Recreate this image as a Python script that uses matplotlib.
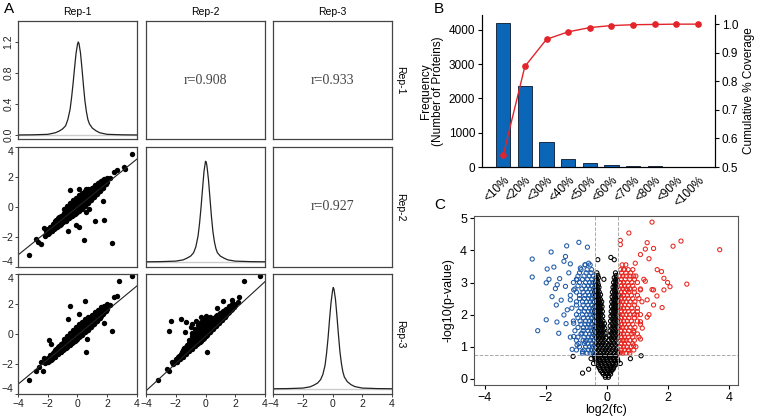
import numpy as np
import matplotlib.pyplot as plt

plt.rcParams['font.family'] = ['Liberation Sans', 'DejaVu Sans']

# ---- panel A: density curves on the diagonal ----
dens_x = [-4, -3, -2, -1.5, -1.25, -1.0, -0.8, -0.65, -0.5, -0.4, -0.3, -0.2, -0.1,
          0.0, 0.05, 0.1, 0.2, 0.3, 0.4, 0.5, 0.6, 0.7, 0.8, 1.0, 1.25, 1.5, 2, 3, 4]
dens_rep1 = [0.002, 0.004, 0.01, 0.03, 0.05, 0.08, 0.12, 0.2, 0.33, 0.48, 0.66, 0.86, 1.05,
             1.17, 1.2, 1.18, 1.06, 0.86, 0.64, 0.44, 0.3, 0.2, 0.145, 0.09, 0.055, 0.03, 0.01, 0.004, 0.002]
dens_rep2 = [0.002, 0.004, 0.01, 0.025, 0.045, 0.07, 0.11, 0.18, 0.31, 0.46, 0.65, 0.87, 1.08,
             1.2, 1.19, 1.14, 0.98, 0.76, 0.54, 0.36, 0.24, 0.16, 0.11, 0.07, 0.045, 0.025, 0.01, 0.004, 0.002]
dens_rep3 = [0.002, 0.004, 0.01, 0.025, 0.045, 0.07, 0.11, 0.17, 0.28, 0.42, 0.6, 0.82, 1.02,
             1.16, 1.2, 1.18, 1.06, 0.86, 0.64, 0.44, 0.3, 0.2, 0.14, 0.085, 0.05, 0.028, 0.01, 0.004, 0.002]

reps = ['Rep-1', 'Rep-2', 'Rep-3']
r_values = {(0, 1): 'r=0.908', (0, 2): 'r=0.933', (1, 2): 'r=0.927'}

# fitted lines (intercept, slope) for lower panels
fit_21 = (0.0, 0.80)
fit_31 = (-0.07, 0.82)
fit_32 = (-0.15, 0.91)

# ---- panel A: scatter points, lower triangle ----
pts_21 = [
    (3.67, 3.56), (-3.27, -3.22), (2.33, -2.38), (0.44, -2.18), (-0.49, 1.11), (0.11, 1.18),
    (0.56, 1.22), (1.73, 0.38), (1.78, -0.84), (1.16, -0.96), (-0.67, -1.6), (-2.22, -1.38),
    (0.11, -1.33), (-0.11, -1.22), (-2.67, -2.33), (-2.44, -2.44), (-2.78, -2.11), (2.44, 2.33),
    (2.67, 2.44), (3.11, 2.67), (3.22, 2.56), (0.56, -0.33), (0.78, -0.11),
    (-2.2, -1.95), (-2.15, -1.6), (-2.0, -1.8), (-1.95, -1.45), (-2.05, -1.62),
    (-1.8, -1.6), (-1.75, -1.3), (-1.85, -1.45), (-1.6, -1.45), (-1.6, -1.1), (-1.55, -1.28),
    (-1.4, -1.35), (-1.42, -0.85), (-1.35, -1.1), (-1.2, -1.2), (-1.22, -0.65), (-1.18, -0.92),
    (-1.25, -1.05), (-1.0, -1.0), (-1.0, -0.5), (-0.98, -0.75), (-1.05, -0.62),
    (-0.8, -0.9), (-0.8, -0.3), (-0.78, -0.58), (-0.85, -0.45), (-0.75, -0.75),
    (-0.6, -0.75), (-0.6, -0.05), (-0.58, -0.4), (-0.62, -0.22), (-0.55, -0.58),
    (-0.4, -0.6), (-0.4, 0.15), (-0.38, -0.24), (-0.42, -0.05), (-0.35, -0.42),
    (-0.2, -0.45), (-0.2, 0.35), (-0.18, -0.07), (-0.22, 0.15), (-0.15, -0.27),
    (0.0, -0.3), (0.0, 0.55), (0.02, 0.1), (-0.02, 0.32), (0.05, -0.12),
    (0.2, -0.15), (0.2, 0.7), (0.22, 0.27), (0.18, 0.48), (0.25, 0.05),
    (0.4, 0.0), (0.4, 0.85), (0.42, 0.44), (0.38, 0.65), (0.45, 0.22),
    (0.6, 0.2), (0.6, 1.0), (0.62, 0.61), (0.58, 0.8), (0.65, 0.4),
    (0.8, 0.4), (0.8, 1.15), (0.82, 0.78), (0.78, 0.98), (0.85, 0.58),
    (1.0, 0.6), (1.0, 1.3), (1.02, 0.95), (0.98, 1.13), (1.05, 0.77),
    (1.2, 0.8), (1.2, 1.45), (1.22, 1.12), (1.25, 0.95), (1.4, 1.0), (1.4, 1.6), (1.42, 1.29),
    (1.6, 1.2), (1.6, 1.75), (1.62, 1.46), (1.8, 1.45), (1.8, 1.85), (2.0, 1.65), (2.0, 1.95),
    (2.2, 1.95),
    (-1.9, -1.75), (-1.9, -1.5), (-1.88, -1.3), (-1.7, -1.6), (-1.7, -1.35), (-1.68, -1.12),
    (-1.5, -1.42), (-1.5, -1.17), (-1.48, -0.93), (-1.3, -1.25), (-1.3, -1.0), (-1.28, -0.75),
    (-1.1, -1.1), (-1.1, -0.83), (-1.08, -0.58), (-0.9, -0.95), (-0.9, -0.66), (-0.88, -0.38),
    (-0.92, -0.15), (-0.7, -0.82), (-0.7, -0.5), (-0.68, -0.2), (-0.72, 0.05),
    (-0.5, -0.68), (-0.5, -0.33), (-0.48, 0.0), (-0.52, 0.25), (-0.3, -0.55), (-0.3, -0.15),
    (-0.28, 0.18), (-0.32, 0.45), (-0.1, -0.4), (-0.1, 0.02), (-0.08, 0.38), (-0.12, 0.62),
    (0.1, -0.25), (0.1, 0.18), (0.12, 0.52), (0.08, 0.8), (0.3, -0.1), (0.3, 0.36), (0.32, 0.7),
    (0.28, 0.95), (0.5, 0.08), (0.5, 0.52), (0.52, 0.88), (0.48, 1.08), (0.7, 0.28), (0.7, 0.7),
    (0.72, 1.02), (0.68, 1.2), (0.9, 0.5), (0.9, 0.87), (0.92, 1.18), (1.1, 0.7), (1.1, 1.03),
    (1.12, 1.33), (1.3, 0.9), (1.3, 1.2), (1.32, 1.5), (1.5, 1.1), (1.5, 1.38), (1.52, 1.65),
    (1.7, 1.3), (1.7, 1.55), (1.72, 1.8), (1.9, 1.55), (1.9, 1.8),
]
pts_31 = [
    (3.67, 3.89), (2.78, 3.56), (0.49, 2.22), (-0.49, 1.89), (-0.67, 1.0), (0.11, 1.33),
    (2.44, 2.44), (2.67, 2.56), (1.78, 0.71), (2.33, 0.22), (0.6, -1.22), (0.67, -0.33),
    (-1.78, -0.67), (-1.89, -0.4), (-3.27, -3.07), (-2.78, -2.44), (-2.56, -2.22),
    (-2.33, -2.44), (-2.22, -1.6), (-2.44, -1.89),
    (-2.2, -1.95), (-2.15, -1.8), (-2.0, -1.85), (-1.95, -1.6), (-2.05, -1.72),
    (-1.8, -1.7), (-1.75, -1.4), (-1.85, -1.55), (-1.6, -1.5), (-1.6, -1.2), (-1.55, -1.35),
    (-1.4, -1.35), (-1.42, -1.0), (-1.35, -1.17), (-1.2, -1.2), (-1.22, -0.8), (-1.18, -1.0),
    (-1.0, -1.05), (-1.0, -0.6), (-0.98, -0.83), (-1.05, -0.7),
    (-0.8, -0.9), (-0.8, -0.4), (-0.78, -0.65), (-0.85, -0.5),
    (-0.6, -0.75), (-0.6, -0.2), (-0.58, -0.48), (-0.62, -0.35),
    (-0.4, -0.6), (-0.4, 0.0), (-0.38, -0.3), (-0.42, -0.15),
    (-0.2, -0.45), (-0.2, 0.2), (-0.18, -0.13), (-0.22, 0.05),
    (0.0, -0.3), (0.0, 0.4), (0.02, 0.05), (-0.02, 0.22),
    (0.2, -0.1), (0.2, 0.58), (0.22, 0.23), (0.18, 0.4),
    (0.4, 0.05), (0.4, 0.75), (0.42, 0.4), (0.38, 0.58),
    (0.6, 0.22), (0.6, 0.92), (0.62, 0.58), (0.58, 0.75),
    (0.8, 0.4), (0.8, 1.1), (0.82, 0.75), (0.78, 0.93),
    (1.0, 0.6), (1.0, 1.25), (1.02, 0.93), (0.98, 1.1),
    (1.2, 0.8), (1.2, 1.45), (1.22, 1.1), (1.4, 1.0), (1.4, 1.6), (1.42, 1.28),
    (1.6, 1.2), (1.6, 1.78), (1.62, 1.46), (1.8, 1.45), (1.8, 1.9), (2.0, 1.65), (2.0, 2.0),
    (2.2, 1.95),
    (-1.9, -1.8), (-1.9, -1.6), (-1.88, -1.42), (-1.7, -1.65), (-1.7, -1.45), (-1.68, -1.25),
    (-1.5, -1.5), (-1.5, -1.27), (-1.48, -1.05), (-1.3, -1.32), (-1.3, -1.1), (-1.28, -0.88),
    (-1.1, -1.18), (-1.1, -0.92), (-1.08, -0.68), (-0.9, -1.0), (-0.9, -0.74), (-0.88, -0.48),
    (-0.92, -0.3), (-0.7, -0.85), (-0.7, -0.57), (-0.68, -0.3), (-0.72, -0.1),
    (-0.5, -0.7), (-0.5, -0.4), (-0.48, -0.12), (-0.52, 0.08), (-0.3, -0.55), (-0.3, -0.22),
    (-0.28, 0.08), (-0.32, 0.3), (-0.1, -0.4), (-0.1, -0.04), (-0.08, 0.26), (-0.12, 0.48),
    (0.1, -0.22), (0.1, 0.14), (0.12, 0.44), (0.08, 0.65), (0.3, -0.05), (0.3, 0.32), (0.32, 0.6),
    (0.28, 0.82), (0.5, 0.12), (0.5, 0.5), (0.52, 0.78), (0.48, 0.98), (0.7, 0.3), (0.7, 0.67),
    (0.72, 0.95), (0.68, 1.15), (0.9, 0.5), (0.9, 0.85), (0.92, 1.15), (1.1, 0.7), (1.1, 1.02),
    (1.12, 1.3), (1.3, 0.9), (1.3, 1.2), (1.32, 1.48), (1.5, 1.1), (1.5, 1.37), (1.52, 1.62),
    (1.7, 1.32), (1.7, 1.55), (1.72, 1.8), (1.9, 1.55), (1.9, 1.85),
]
pts_32 = [
    (2.56, 3.56), (3.67, 3.89), (-2.33, 0.89), (-2.44, 0.22), (-1.67, 1.0), (-1.33, 0.78),
    (-1.0, 0.44), (-1.38, 0.11), (1.16, 2.22), (0.78, 1.73), (0.11, -1.22), (-3.22, -3.07),
    (-2.44, -2.44), (-2.56, -2.33), (-2.27, -1.89), (1.78, 2.27), (2.22, 2.44),
    (-0.89, 0.67), (-0.67, 0.89), (-0.33, 1.11), (0.0, 1.22), (0.33, 1.11),
    (-2.2, -2.0), (-2.15, -1.85), (-2.0, -1.85), (-1.95, -1.65),
    (-1.8, -1.65), (-1.75, -1.45), (-1.85, -1.55), (-1.6, -1.5), (-1.6, -1.2), (-1.55, -1.35),
    (-1.4, -1.3), (-1.42, -0.95), (-1.35, -1.12), (-1.2, -1.15), (-1.22, -0.7), (-1.18, -0.92),
    (-1.0, -0.95), (-1.0, -0.4), (-0.98, -0.7), (-1.05, -0.55),
    (-0.8, -0.8), (-0.8, -0.1), (-0.78, -0.5), (-0.85, -0.3), (-0.75, -0.62),
    (-0.6, -0.65), (-0.6, 0.2), (-0.58, -0.3), (-0.62, 0.0), (-0.55, -0.45),
    (-0.4, -0.5), (-0.4, 0.45), (-0.38, -0.1), (-0.42, 0.2), (-0.35, -0.3),
    (-0.2, -0.35), (-0.2, 0.65), (-0.18, 0.1), (-0.22, 0.4), (-0.15, -0.12),
    (0.0, -0.15), (0.0, 0.85), (0.02, 0.3), (-0.02, 0.6), (0.05, 0.08),
    (0.2, 0.05), (0.2, 0.9), (0.22, 0.45), (0.18, 0.7), (0.25, 0.25),
    (0.4, 0.25), (0.4, 1.0), (0.42, 0.6), (0.38, 0.82), (0.45, 0.42),
    (0.6, 0.45), (0.6, 1.1), (0.62, 0.78), (0.58, 0.95),
    (0.8, 0.65), (0.8, 1.25), (0.82, 0.95), (1.0, 0.85), (1.0, 1.4), (1.02, 1.12),
    (1.2, 1.05), (1.2, 1.55), (1.22, 1.3), (1.4, 1.3), (1.4, 1.7), (1.6, 1.5), (1.6, 1.85),
    (1.8, 1.7), (1.8, 2.0), (2.0, 1.95), (2.2, 2.15),
    (-1.9, -1.85), (-1.9, -1.65), (-1.7, -1.68), (-1.7, -1.5), (-1.68, -1.3),
    (-1.5, -1.5), (-1.5, -1.3), (-1.48, -1.08), (-1.3, -1.32), (-1.3, -1.1), (-1.28, -0.85),
    (-1.1, -1.15), (-1.1, -0.9), (-1.08, -0.6), (-1.12, -0.4),
    (-0.9, -0.98), (-0.9, -0.72), (-0.88, -0.4), (-0.92, -0.15), (-0.9, 0.1),
    (-0.7, -0.8), (-0.7, -0.5), (-0.68, -0.2), (-0.72, 0.1), (-0.7, 0.35),
    (-0.5, -0.62), (-0.5, -0.3), (-0.48, 0.0), (-0.52, 0.3), (-0.5, 0.6),
    (-0.3, -0.45), (-0.3, -0.1), (-0.28, 0.2), (-0.32, 0.5), (-0.3, 0.78),
    (-0.1, -0.28), (-0.1, 0.08), (-0.08, 0.4), (-0.12, 0.7), (-0.1, 0.95),
    (0.1, -0.08), (0.1, 0.25), (0.12, 0.55), (0.08, 0.82), (0.1, 1.05),
    (0.3, 0.12), (0.3, 0.42), (0.32, 0.7), (0.28, 0.95), (0.5, 0.32), (0.5, 0.6), (0.52, 0.88),
    (0.48, 1.1), (0.7, 0.55), (0.7, 0.8), (0.72, 1.05), (0.68, 1.22), (0.9, 0.75), (0.9, 0.98),
    (0.92, 1.2), (1.1, 0.95), (1.1, 1.2), (1.12, 1.4), (1.3, 1.15), (1.3, 1.4), (1.32, 1.6),
    (1.5, 1.38), (1.5, 1.6), (1.7, 1.58), (1.7, 1.8), (1.9, 1.8), (1.9, 2.0),
]

# ---- panel B: coverage histogram ----
cov_bins = ['<10%', '<20%', '<30%', '<40%', '<50%', '<60%', '<70%', '<80%', '<90%', '<100%']
freq = [4210, 2370, 730, 245, 117, 60, 30, 18, 8, 5]
cum_cov = [0.541, 0.852, 0.947, 0.973, 0.988, 0.995, 0.998, 0.999, 1.0, 1.0]

# ---- panel C: volcano ----
fc_cut = 0.38
p_cut = 0.74
blue_pts = [
    (-2.45, 3.73), (-2.45, 3.17), (-2.27, 1.5), (-1.99, 1.84), (-1.96, 3.42), (-1.83, 3.95),
    (-1.99, 2.99), (-1.9, 3.1), (-1.74, 3.48), (-1.69, 2.81), (-1.66, 2.3), (-1.64, 1.77),
    (-1.58, 1.42), (-1.55, 3.12), (-1.36, 3.81), (-1.41, 3.66), (-1.32, 4.14), (-1.25, 3.3),
    (-1.2, 3.58), (-0.92, 4.25), (-0.64, 4.1), (-1.09, 1.32), (-1.34, 1.72), (-1.63, 2.93),
    (-1.5, 2.45), (-1.3, 2.15), (-1.09, 2.77), (-0.98, 3.09), (-0.87, 3.45), (-0.71, 3.55),
    (-0.6, 3.6), (-1.09, 1.73), (-0.98, 1.06), (-0.82, 1.42), (-1.14, 0.92), (-0.8, 0.85),
    (-0.71, 1.16), (-1.41, 1.99), (-1.8, 2.56), (-1.36, 2.88), (-1.2, 2.46),
    (-0.45, 0.8), (-0.55, 0.8), (-0.65, 0.8), (-0.8, 0.8),
    (-0.47, 1.0), (-0.58, 1.0), (-0.7, 1.0), (-0.9, 1.0),
    (-0.45, 1.2), (-0.55, 1.2), (-0.66, 1.2), (-0.78, 1.2), (-1.0, 1.2),
    (-0.46, 1.4), (-0.57, 1.4), (-0.7, 1.4), (-0.85, 1.4),
    (-0.45, 1.6), (-0.55, 1.6), (-0.65, 1.6), (-0.77, 1.6), (-0.95, 1.6),
    (-0.47, 1.8), (-0.58, 1.8), (-0.7, 1.8), (-0.88, 1.8), (-1.1, 1.8),
    (-0.45, 2.0), (-0.55, 2.0), (-0.66, 2.0), (-0.8, 2.0), (-1.0, 2.0),
    (-0.46, 2.2), (-0.57, 2.2), (-0.7, 2.2), (-0.86, 2.2), (-1.15, 2.2),
    (-0.45, 2.4), (-0.55, 2.4), (-0.67, 2.4), (-0.8, 2.4), (-1.0, 2.4),
    (-0.47, 2.6), (-0.58, 2.6), (-0.72, 2.6), (-0.9, 2.6), (-1.2, 2.6),
    (-0.45, 2.8), (-0.56, 2.8), (-0.68, 2.8), (-0.82, 2.8), (-1.05, 2.8),
    (-0.46, 3.0), (-0.57, 3.0), (-0.7, 3.0), (-0.9, 3.0), (-1.1, 3.0),
    (-0.45, 3.2), (-0.58, 3.2), (-0.75, 3.2), (-0.95, 3.2),
    (-0.5, 3.4), (-0.65, 3.4), (-0.85, 3.4), (-0.55, 3.55), (-0.72, 3.55),
    (-0.5, 0.9), (-0.6, 0.9), (-0.75, 0.9), (-1.0, 0.9),
    (-0.5, 1.1), (-0.62, 1.1), (-0.74, 1.1), (-0.92, 1.1),
    (-0.5, 1.3), (-0.6, 1.3), (-0.75, 1.3), (-0.95, 1.3), (-1.2, 1.3),
    (-0.5, 1.5), (-0.62, 1.5), (-0.78, 1.5), (-1.05, 1.5),
    (-0.5, 1.7), (-0.6, 1.7), (-0.72, 1.7), (-0.85, 1.7),
    (-0.5, 1.9), (-0.62, 1.9), (-0.77, 1.9), (-0.95, 1.9),
    (-0.5, 2.1), (-0.61, 2.1), (-0.74, 2.1), (-0.92, 2.1),
    (-0.5, 2.3), (-0.62, 2.3), (-0.78, 2.3), (-1.0, 2.3),
    (-0.5, 2.5), (-0.61, 2.5), (-0.74, 2.5), (-0.9, 2.5),
    (-0.5, 2.7), (-0.63, 2.7), (-0.78, 2.7), (-1.0, 2.7),
    (-0.5, 2.9), (-0.61, 2.9), (-0.75, 2.9), (-0.95, 2.9),
    (-0.5, 3.1), (-0.63, 3.1), (-0.8, 3.1), (-1.0, 3.1),
    (-0.52, 3.3), (-0.68, 3.3), (-0.9, 3.3),
]
red_pts = [
    (1.48, 4.88), (0.72, 4.54), (0.44, 4.31), (0.44, 4.18), (1.32, 4.24), (2.43, 4.29),
    (2.17, 4.13), (3.7, 4.02), (2.62, 2.95), (1.99, 3.0), (1.79, 3.34), (1.87, 3.13),
    (1.65, 3.4), (1.81, 2.22), (1.38, 2.0), (1.16, 1.58), (1.53, 4.06), (1.26, 4.04),
    (1.1, 3.87), (1.38, 3.74), (0.93, 3.6), (1.53, 2.77), (1.53, 2.3), (1.32, 2.46),
    (1.1, 2.77), (1.64, 2.58), (1.21, 3.1), (0.88, 3.2), (0.99, 1.99), (0.88, 1.45),
    (1.1, 1.24), (0.88, 1.03), (0.72, 0.87), (0.44, 0.81), (0.56, 1.2), (1.1, 1.78),
    (1.26, 3.04), (1.48, 2.78), (1.32, 1.92), (1.87, 2.77), (2.07, 2.87), (0.68, 2.77),
    (0.55, 3.4),
    (0.42, 0.8), (0.52, 0.8), (0.62, 0.8), (0.75, 0.8),
    (0.44, 1.0), (0.55, 1.0), (0.66, 1.0), (0.8, 1.0), (0.95, 1.0),
    (0.42, 1.2), (0.52, 1.2), (0.63, 1.2), (0.75, 1.2), (0.9, 1.2),
    (0.44, 1.4), (0.55, 1.4), (0.67, 1.4), (0.82, 1.4), (1.0, 1.4),
    (0.42, 1.6), (0.52, 1.6), (0.63, 1.6), (0.76, 1.6), (0.92, 1.6),
    (0.44, 1.8), (0.55, 1.8), (0.67, 1.8), (0.8, 1.8), (1.0, 1.8),
    (0.42, 2.0), (0.52, 2.0), (0.63, 2.0), (0.75, 2.0), (0.9, 2.0), (1.1, 2.0),
    (0.44, 2.2), (0.55, 2.2), (0.67, 2.2), (0.82, 2.2), (1.0, 2.2),
    (0.42, 2.4), (0.52, 2.4), (0.63, 2.4), (0.76, 2.4), (0.92, 2.4), (1.15, 2.4),
    (0.44, 2.6), (0.55, 2.6), (0.67, 2.6), (0.8, 2.6), (1.0, 2.6),
    (0.42, 2.8), (0.52, 2.8), (0.63, 2.8), (0.75, 2.8), (0.9, 2.8), (1.1, 2.8),
    (0.44, 3.0), (0.55, 3.0), (0.67, 3.0), (0.82, 3.0), (1.0, 3.0),
    (0.42, 3.2), (0.52, 3.2), (0.63, 3.2), (0.76, 3.2), (0.95, 3.2),
    (0.45, 3.4), (0.57, 3.4), (0.7, 3.4), (0.85, 3.4), (0.5, 3.55), (0.62, 3.55),
    (0.47, 0.9), (0.57, 0.9), (0.7, 0.9), (0.88, 0.9),
    (0.47, 1.1), (0.58, 1.1), (0.7, 1.1), (0.85, 1.1),
    (0.47, 1.3), (0.58, 1.3), (0.7, 1.3), (0.85, 1.3), (1.05, 1.3),
    (0.47, 1.5), (0.58, 1.5), (0.72, 1.5), (0.88, 1.5),
    (0.47, 1.7), (0.58, 1.7), (0.7, 1.7), (0.85, 1.7), (1.1, 1.7),
    (0.47, 1.9), (0.58, 1.9), (0.72, 1.9), (0.9, 1.9),
    (0.47, 2.1), (0.58, 2.1), (0.7, 2.1), (0.85, 2.1), (1.0, 2.1),
    (0.47, 2.3), (0.58, 2.3), (0.72, 2.3), (0.9, 2.3),
    (0.47, 2.5), (0.58, 2.5), (0.7, 2.5), (0.85, 2.5), (1.05, 2.5),
    (0.47, 2.7), (0.58, 2.7), (0.72, 2.7), (0.9, 2.7),
    (0.47, 2.9), (0.58, 2.9), (0.7, 2.9), (0.85, 2.9),
    (0.47, 3.1), (0.6, 3.1), (0.75, 3.1), (0.9, 3.1),
    (0.48, 3.3), (0.62, 3.3), (0.78, 3.3),
]
black_pts = [
    (-1.11, 0.7), (-0.8, 0.18), (-0.6, 0.3), (-0.44, 0.48), (0.44, 0.48), (0.77, 0.63),
    (1.12, 0.72), (-0.52, 0.63), (-0.3, 3.71), (0.13, 3.78), (0.24, 3.71), (-0.1, 3.1),
    (-0.05, 0.05), (0.05, 0.05),
    (-0.12, 0.15), (0.0, 0.15), (0.12, 0.15),
    (-0.2, 0.25), (-0.08, 0.25), (0.04, 0.25), (0.15, 0.25),
    (-0.25, 0.35), (-0.12, 0.35), (0.0, 0.35), (0.12, 0.35), (0.22, 0.35),
    (-0.3, 0.45), (-0.18, 0.45), (-0.05, 0.45), (0.08, 0.45), (0.2, 0.45), (0.3, 0.45),
    (-0.35, 0.55), (-0.22, 0.55), (-0.1, 0.55), (0.02, 0.55), (0.14, 0.55), (0.26, 0.55), (0.36, 0.55),
    (-0.38, 0.65), (-0.26, 0.65), (-0.14, 0.65), (-0.02, 0.65), (0.1, 0.65), (0.22, 0.65), (0.33, 0.65),
    (-0.4, 0.75), (-0.28, 0.75), (-0.16, 0.75), (-0.04, 0.75), (0.08, 0.75), (0.2, 0.75), (0.32, 0.75),
    (-0.4, 0.9), (-0.28, 0.9), (-0.16, 0.9), (-0.05, 0.9), (0.06, 0.9), (0.18, 0.9), (0.3, 0.9),
    (-0.4, 1.05), (-0.29, 1.05), (-0.18, 1.05), (-0.07, 1.05), (0.05, 1.05), (0.16, 1.05), (0.28, 1.05),
    (-0.41, 1.2), (-0.3, 1.2), (-0.19, 1.2), (-0.08, 1.2), (0.07, 1.2), (0.18, 1.2), (0.29, 1.2),
    (-0.4, 1.35), (-0.3, 1.35), (-0.2, 1.35), (-0.1, 1.35), (0.09, 1.35), (0.19, 1.35), (0.3, 1.35),
    (-0.41, 1.5), (-0.31, 1.5), (-0.21, 1.5), (-0.11, 1.5), (0.1, 1.5), (0.2, 1.5), (0.31, 1.5),
    (-0.4, 1.65), (-0.3, 1.65), (-0.2, 1.65), (-0.12, 1.65), (0.11, 1.65), (0.21, 1.65), (0.32, 1.65),
    (-0.41, 1.8), (-0.31, 1.8), (-0.22, 1.8), (-0.13, 1.8), (0.12, 1.8), (0.22, 1.8), (0.33, 1.8),
    (-0.4, 1.95), (-0.31, 1.95), (-0.22, 1.95), (-0.14, 1.95), (0.13, 1.95), (0.22, 1.95), (0.32, 1.95),
    (-0.41, 2.1), (-0.32, 2.1), (-0.23, 2.1), (-0.15, 2.1), (0.14, 2.1), (0.23, 2.1), (0.33, 2.1),
    (-0.4, 2.25), (-0.31, 2.25), (-0.23, 2.25), (-0.16, 2.25), (0.15, 2.25), (0.24, 2.25), (0.32, 2.25),
    (-0.41, 2.4), (-0.32, 2.4), (-0.24, 2.4), (-0.17, 2.4), (0.16, 2.4), (0.24, 2.4), (0.33, 2.4),
    (-0.4, 2.55), (-0.32, 2.55), (-0.25, 2.55), (0.17, 2.55), (0.25, 2.55), (0.33, 2.55),
    (-0.41, 2.7), (-0.33, 2.7), (-0.25, 2.7), (0.18, 2.7), (0.26, 2.7), (0.34, 2.7),
    (-0.4, 2.85), (-0.32, 2.85), (-0.26, 2.85), (0.2, 2.85), (0.27, 2.85), (0.33, 2.85),
    (-0.38, 3.0), (-0.3, 3.0), (0.22, 3.0), (0.3, 3.0),
    (-0.36, 3.15), (-0.28, 3.15), (0.24, 3.15), (0.31, 3.15),
    (-0.33, 3.3), (0.28, 3.3),
    (-0.06, 0.1), (0.06, 0.1), (-0.15, 0.2), (-0.03, 0.2), (0.09, 0.2),
    (-0.22, 0.3), (-0.1, 0.3), (0.02, 0.3), (0.14, 0.3), (0.2, 0.3),
    (-0.28, 0.4), (-0.15, 0.4), (-0.02, 0.4), (0.1, 0.4), (0.24, 0.4),
    (-0.33, 0.5), (-0.2, 0.5), (-0.07, 0.5), (0.05, 0.5), (0.18, 0.5), (0.3, 0.5),
    (-0.37, 0.6), (-0.24, 0.6), (-0.12, 0.6), (0.0, 0.6), (0.12, 0.6), (0.24, 0.6), (0.35, 0.6),
    (-0.41, 0.7), (-0.3, 0.7), (-0.2, 0.7), (-0.08, 0.7), (0.04, 0.7), (0.15, 0.7), (0.27, 0.7),
    (-0.34, 0.82), (-0.22, 0.82), (-0.1, 0.82), (0.0, 0.82), (0.12, 0.82), (0.24, 0.82), (0.35, 0.82),
    (-0.35, 0.97), (-0.23, 0.97), (-0.12, 0.97), (0.0, 0.97), (0.1, 0.97), (0.22, 0.97), (0.33, 0.97),
    (-0.35, 1.12), (-0.24, 1.12), (-0.13, 1.12), (-0.03, 1.12), (0.11, 1.12), (0.23, 1.12), (0.34, 1.12),
    (-0.36, 1.27), (-0.25, 1.27), (-0.14, 1.27), (-0.04, 1.27), (0.13, 1.27), (0.24, 1.27), (0.35, 1.27),
    (-0.35, 1.42), (-0.25, 1.42), (-0.15, 1.42), (-0.06, 1.42), (0.15, 1.42), (0.25, 1.42), (0.35, 1.42),
    (-0.36, 1.57), (-0.26, 1.57), (-0.16, 1.57), (-0.07, 1.57), (0.16, 1.57), (0.26, 1.57), (0.36, 1.57),
    (-0.35, 1.72), (-0.26, 1.72), (-0.17, 1.72), (-0.08, 1.72), (0.17, 1.72), (0.27, 1.72), (0.36, 1.72),
    (-0.36, 1.87), (-0.27, 1.87), (-0.18, 1.87), (0.17, 1.87), (0.27, 1.87), (0.36, 1.87),
    (-0.36, 2.02), (-0.27, 2.02), (-0.19, 2.02), (0.18, 2.02), (0.28, 2.02), (0.36, 2.02),
    (-0.35, 2.17), (-0.27, 2.17), (-0.2, 2.17), (0.19, 2.17), (0.28, 2.17), (0.36, 2.17),
    (-0.36, 2.32), (-0.28, 2.32), (-0.2, 2.32), (0.2, 2.32), (0.28, 2.32), (0.36, 2.32),
    (-0.36, 2.47), (-0.28, 2.47), (-0.21, 2.47), (0.21, 2.47), (0.29, 2.47), (0.36, 2.47),
    (-0.37, 2.62), (-0.29, 2.62), (-0.21, 2.62), (0.22, 2.62), (0.3, 2.62), (0.37, 2.62),
    (-0.36, 2.77), (-0.29, 2.77), (0.23, 2.77), (0.3, 2.77),
    (-0.35, 2.92), (-0.28, 2.92), (0.25, 2.92), (0.32, 2.92),
    (-0.32, 3.07), (0.27, 3.07), (0.34, 3.07), (-0.3, 3.22), (0.3, 3.22),
]

W, H = 760, 418


def box(l, t, r, b):
    return [l / W, 1 - b / H, (r - l) / W, (b - t) / H]


fig = plt.figure(figsize=(7.6, 4.18), dpi=100)

cols = [(18, 137), (146, 265), (273, 392)]
rows = [(21, 139), (147, 267), (274, 394)]
dens = [dens_rep1, dens_rep2, dens_rep3]
dens_ylim = [(-0.05, 1.47), (-0.06, 1.37), (-0.06, 1.36)]
lower = {(1, 0): (pts_21, fit_21), (2, 0): (pts_31, fit_31), (2, 1): (pts_32, fit_32)}

for i, (t, b) in enumerate(rows):
    for j, (l, r) in enumerate(cols):
        ax = fig.add_axes(box(l, t, r, b))
        for s in ax.spines.values():
            s.set_color('#444444')
            s.set_linewidth(0.9)
        ax.set_xlim(-4, 4)
        ax.tick_params(length=2, width=0.6, labelsize=7.5, pad=1.5, colors='#222222')
        if i == j:
            ax.axhline(0, color='#cccccc', lw=1.0)
            ax.plot(dens_x, dens[i], color='#222222', lw=0.9)
            ax.set_ylim(*dens_ylim[i])
        elif i < j:
            ax.text(0.5, 0.5, r_values[(i, j)], transform=ax.transAxes, ha='center',
                    va='center', fontsize=10, color='#444444', family='Liberation Serif')
        else:
            pts, (a0, b1) = lower[(i, j)]
            xy = np.array(pts)
            ax.scatter(xy[:, 0], xy[:, 1], s=15, color='black', linewidths=0)
            ax.axline((0, a0), slope=b1, color='#222222', lw=0.8)
            ax.set_ylim(-4, 4)
        if i == 2:
            ax.set_xticks([-4, -2, 0, 2, 4])
        else:
            ax.set_xticks([])
        if j == 0 and i == 0:
            ax.set_yticks([0, 0.4, 0.8, 1.2])
            ax.set_yticklabels(['0.0', '0.4', '0.8', '1.2'], rotation=90, va='center')
        elif j == 0:
            ax.set_yticks([-4, -2, 0, 2, 4])
            labs = ax.get_yticklabels()
            labs[0].set_va('bottom')
            labs[-1].set_va('top')
        else:
            ax.set_yticks([])
        if i == 0:
            ax.set_title(reps[j], fontsize=7.5, pad=4)
        if j == 2:
            ax.text(1.07, 0.5, reps[i], transform=ax.transAxes, rotation=-90,
                    ha='center', va='center', fontsize=7.5)

fig.text(9 / W, 1 - 9 / H, 'A', fontsize=11, ha='center', va='center')
fig.text(439 / W, 1 - 9 / H, 'B', fontsize=11, ha='center', va='center')
fig.text(440 / W, 1 - 205 / H, 'C', fontsize=11, ha='center', va='center')

# ---- panel B ----
axb = fig.add_axes(box(482, 15, 715, 167))
xb = np.arange(len(cov_bins))
axb.bar(xb, freq, width=0.65, color='#0b66b8', edgecolor='#1b2c44', lw=0.7)
axb.set_xlim(-0.98, 9.78)
axb.set_ylim(0, 4430)
axb.set_yticks([0, 1000, 2000, 3000, 4000])
axb.set_xticks(xb)
axb.set_xticklabels(cov_bins, rotation=45, ha='right', rotation_mode='anchor')
axb.tick_params(axis='x', length=0, pad=5, labelsize=8.5)
axb.tick_params(axis='y', length=3, labelsize=8.5, pad=2)
axb.spines['top'].set_visible(False)
axb.set_ylabel('Frequency\n(Number of Proteins)', fontsize=8.5, labelpad=3, linespacing=1.0)
axr = axb.twinx()
axr.plot(xb, cum_cov, color='#e3242b', marker='o', ms=3.8, lw=1.0)
axr.set_ylim(0.5, 1.032)
axr.set_yticks([0.5, 0.6, 0.7, 0.8, 0.9, 1.0])
axr.tick_params(axis='y', length=3, labelsize=8.5, pad=2)
axr.spines['top'].set_visible(False)
axr.set_ylabel('Cumulative % Coverage', fontsize=8.5, labelpad=3)

# ---- panel C ----
axc = fig.add_axes(box(474, 216, 738, 385))
for pts, col in [(black_pts, 'black'), (blue_pts, '#1f5aa8'), (red_pts, '#e8261f')]:
    xy = np.array(pts)
    axc.scatter(xy[:, 0], xy[:, 1], s=9, facecolors='none', edgecolors=col, linewidths=0.75)
axc.axvline(-fc_cut, color='#aaaaaa', ls='--', lw=0.7)
axc.axvline(fc_cut, color='#aaaaaa', ls='--', lw=0.7)
axc.axhline(p_cut, color='#aaaaaa', ls='--', lw=0.7)
axc.set_xlim(-4.36, 4.3)
axc.set_ylim(-0.19, 5.07)
axc.set_xticks([-4, -2, 0, 2, 4])
axc.set_yticks([0, 1, 2, 3, 4, 5])
axc.tick_params(length=3, labelsize=9, pad=2)
for s in axc.spines.values():
    s.set_color('#555555')
axc.set_xlabel('log2(fc)', fontsize=9, labelpad=0)
axc.set_ylabel('-log10(p-value)', fontsize=9, labelpad=4)

fig.savefig('out.png', dpi=100)
